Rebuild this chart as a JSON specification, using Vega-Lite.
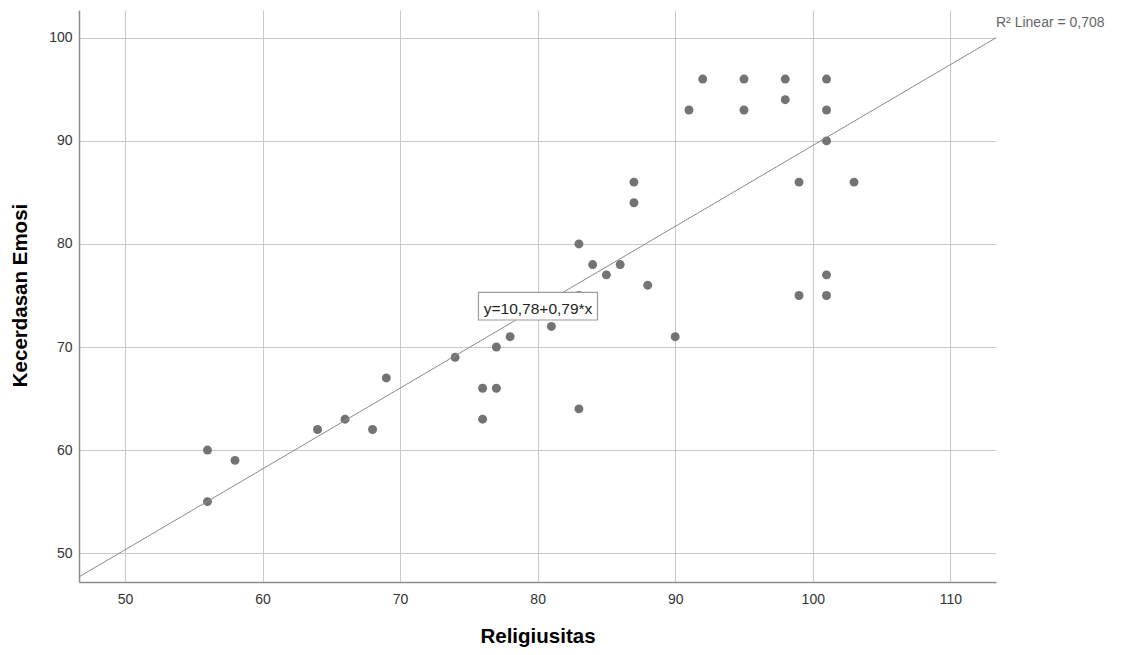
{
  "$schema": "https://vega.github.io/schema/vega-lite/v6.json",
  "width": 917,
  "height": 572,
  "autosize": {"type": "none"},
  "padding": {"left": 79, "top": 10, "right": 129, "bottom": 73},
  "background": "white",
  "config": {
    "view": {"stroke": null},
    "font": "Liberation Sans",
    "axis": {
      "grid": true,
      "gridColor": "#c9c9c9",
      "gridWidth": 1,
      "domainColor": "#8c8c8c",
      "domainWidth": 1.5,
      "ticks": false,
      "tickSize": 0,
      "labelFont": "Liberation Sans",
      "labelFontSize": 14,
      "labelColor": "#333333",
      "titleFont": "Liberation Sans",
      "titleFontSize": 20.5,
      "titleFontWeight": "bold",
      "titleColor": "#000000"
    }
  },
  "datasets": {
    "points": [
      {"Religiusitas": 56, "Kecerdasan Emosi": 60},
      {"Religiusitas": 56, "Kecerdasan Emosi": 55},
      {"Religiusitas": 58, "Kecerdasan Emosi": 59},
      {"Religiusitas": 64, "Kecerdasan Emosi": 62},
      {"Religiusitas": 66, "Kecerdasan Emosi": 63},
      {"Religiusitas": 68, "Kecerdasan Emosi": 62},
      {"Religiusitas": 69, "Kecerdasan Emosi": 67},
      {"Religiusitas": 74, "Kecerdasan Emosi": 69},
      {"Religiusitas": 76, "Kecerdasan Emosi": 66},
      {"Religiusitas": 76, "Kecerdasan Emosi": 63},
      {"Religiusitas": 77, "Kecerdasan Emosi": 70},
      {"Religiusitas": 77, "Kecerdasan Emosi": 66},
      {"Religiusitas": 78, "Kecerdasan Emosi": 71},
      {"Religiusitas": 81, "Kecerdasan Emosi": 72},
      {"Religiusitas": 83, "Kecerdasan Emosi": 80},
      {"Religiusitas": 83, "Kecerdasan Emosi": 75},
      {"Religiusitas": 83, "Kecerdasan Emosi": 64},
      {"Religiusitas": 84, "Kecerdasan Emosi": 78},
      {"Religiusitas": 85, "Kecerdasan Emosi": 77},
      {"Religiusitas": 86, "Kecerdasan Emosi": 78},
      {"Religiusitas": 87, "Kecerdasan Emosi": 86},
      {"Religiusitas": 87, "Kecerdasan Emosi": 84},
      {"Religiusitas": 88, "Kecerdasan Emosi": 76},
      {"Religiusitas": 90, "Kecerdasan Emosi": 71},
      {"Religiusitas": 91, "Kecerdasan Emosi": 93},
      {"Religiusitas": 92, "Kecerdasan Emosi": 96},
      {"Religiusitas": 95, "Kecerdasan Emosi": 96},
      {"Religiusitas": 95, "Kecerdasan Emosi": 93},
      {"Religiusitas": 98, "Kecerdasan Emosi": 96},
      {"Religiusitas": 98, "Kecerdasan Emosi": 94},
      {"Religiusitas": 99, "Kecerdasan Emosi": 86},
      {"Religiusitas": 99, "Kecerdasan Emosi": 75},
      {"Religiusitas": 101, "Kecerdasan Emosi": 96},
      {"Religiusitas": 101, "Kecerdasan Emosi": 93},
      {"Religiusitas": 101, "Kecerdasan Emosi": 90},
      {"Religiusitas": 101, "Kecerdasan Emosi": 77},
      {"Religiusitas": 101, "Kecerdasan Emosi": 75},
      {"Religiusitas": 103, "Kecerdasan Emosi": 86}
    ],
    "fit": [
      {"Religiusitas": 46.66, "Kecerdasan Emosi": 47.7},
      {"Religiusitas": 113.32, "Kecerdasan Emosi": 100.0}
    ]
  },
  "layer": [
    {
      "data": {"name": "points"},
      "mark": {"type": "circle", "size": 80, "color": "#737373", "opacity": 1},
      "encoding": {
        "x": {
          "field": "Religiusitas",
          "type": "quantitative",
          "scale": {"domain": [46.66, 113.32], "nice": false, "zero": false},
          "axis": {
            "title": "Religiusitas",
            "values": [50, 60, 70, 80, 90, 100, 110],
            "labelBaseline": "alphabetic",
            "labelPadding": 21,
            "titleY": 60.5,
            "titleBaseline": "alphabetic"
          }
        },
        "y": {
          "field": "Kecerdasan Emosi",
          "type": "quantitative",
          "scale": {"domain": [47.2, 102.7], "nice": false, "zero": false},
          "axis": {
            "title": "Kecerdasan Emosi",
            "values": [50, 60, 70, 80, 90, 100],
            "labelPadding": 7,
            "titleX": -52.6,
            "titleY": 285,
            "titleBaseline": "alphabetic",
            "titleAngle": -90
          }
        }
      }
    },
    {
      "data": {"name": "fit"},
      "mark": {"type": "line", "color": "#8a8a8a", "strokeWidth": 1},
      "encoding": {
        "x": {"field": "Religiusitas", "type": "quantitative"},
        "y": {"field": "Kecerdasan Emosi", "type": "quantitative"}
      }
    },
    {
      "data": {"values": [{}]},
      "mark": {"type": "rect", "fill": "white", "stroke": "#9a9a9a", "strokeWidth": 1.2},
      "encoding": {
        "x": {"datum": 75.7, "type": "quantitative"},
        "x2": {"datum": 84.35},
        "y": {"datum": 75.31, "type": "quantitative"},
        "y2": {"datum": 72.62}
      }
    },
    {
      "data": {"values": [{}]},
      "mark": {"type": "text", "text": "y=10,78+0,79*x", "fontSize": 15.5, "color": "#222222", "align": "center", "baseline": "alphabetic", "font": "Liberation Sans"},
      "encoding": {
        "x": {"datum": 80.03, "type": "quantitative"},
        "y": {"datum": 73.2, "type": "quantitative"}
      }
    },
    {
      "data": {"values": [{}]},
      "mark": {"type": "text", "text": "R² Linear = 0,708", "fontSize": 14, "color": "#666666", "align": "left", "baseline": "alphabetic", "font": "Liberation Sans"},
      "encoding": {
        "x": {"datum": 113.32, "type": "quantitative"},
        "y": {"datum": 101.07, "type": "quantitative"}
      }
    }
  ]
}
